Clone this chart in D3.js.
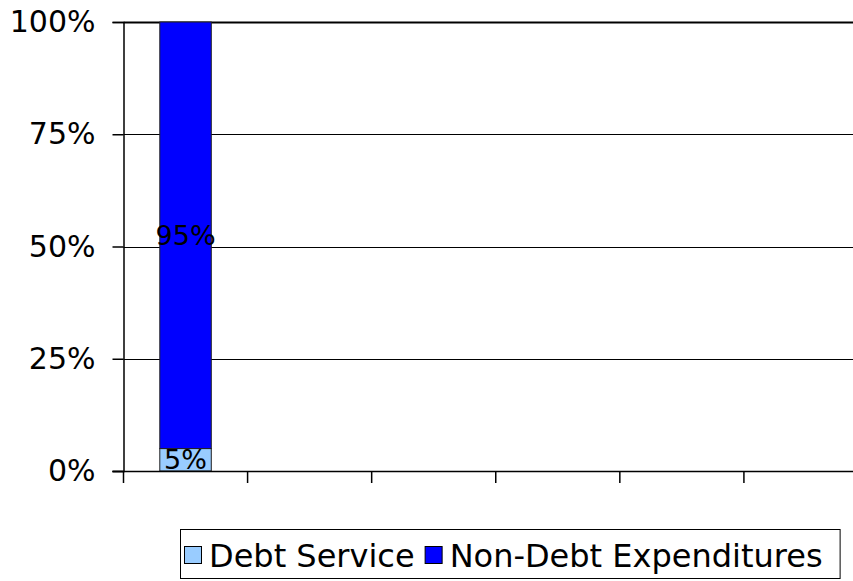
<!DOCTYPE html>
<html>
<head>
<meta charset="utf-8">
<script src="https://cdn.jsdelivr.net/npm/d3@7"></script>
<style>
  html, body { margin: 0; padding: 0; background: #fff; }
  svg { display: block; }
  text { font-family: "DejaVu Sans", sans-serif; fill: #000; }
</style>
</head>
<body>
<svg id="chart" width="853" height="581"></svg>
<script>
// Category slots along the x axis (only the first carries data)
const categories = ["C1", "C2", "C3", "C4", "C5", "C6"];
// Share of spending per category, in percent
const debtService = [5, null, null, null, null, null];
const nonDebtExpenditures = [95, null, null, null, null, null];
const seriesNames = ["Debt Service", "Non-Debt Expenditures"];
const seriesColors = ["#99CCFF", "#0000FF"];
const yTicks = [0, 25, 50, 75, 100];

const svg = d3.select("#chart");
const plot = { left: 123.5, top: 22, bottom: 471, right: 868 };

const x = d3.scaleBand().domain(categories).range([plot.left, plot.right]).padding(0);
const y = d3.scaleLinear().domain([0, 100]).range([plot.bottom, plot.top]);

// Horizontal gridlines
svg.append("g")
  .selectAll("line")
  .data(yTicks)
  .join("line")
  .attr("x1", plot.left).attr("x2", plot.right)
  .attr("y1", d => Math.round(y(d)) + 0.5).attr("y2", d => Math.round(y(d)) + 0.5)
  .attr("stroke", "#000").attr("stroke-width", d => d === 100 ? 2 : 1.2);

// Stacked bars
const rows = categories.map((c, i) => ({ cat: c, debt: debtService[i], nonDebt: nonDebtExpenditures[i] }))
  .filter(r => r.debt != null);
const stacked = d3.stack().keys(["debt", "nonDebt"])(rows);
const barW = x.bandwidth() * 0.415;

const layers = svg.append("g").selectAll("g")
  .data(stacked)
  .join("g")
  .attr("fill", (d, i) => seriesColors[i]);

layers.selectAll("rect")
  .data(d => d)
  .join("rect")
  .attr("x", d => x(d.data.cat) + (x.bandwidth() - barW) / 2)
  .attr("width", barW)
  .attr("y", d => y(d[1]))
  .attr("height", d => y(d[0]) - y(d[1]))
  .attr("stroke", "#222")
  .attr("stroke-width", 1);

// Value labels centred in each segment
layers.selectAll("text")
  .data(d => d)
  .join("text")
  .attr("x", d => x(d.data.cat) + x.bandwidth() / 2)
  .attr("y", d => (y(d[0]) + y(d[1])) / 2)
  .attr("text-anchor", "middle")
  .attr("dominant-baseline", "central")
  .style("font-size", "27px")
  .style("fill", "#000")
  .text(d => (d[1] - d[0]) + "%");

// Y axis
const yAxis = d3.axisLeft(y).tickValues(yTicks).tickFormat(d => d + "%").tickSize(11).tickPadding(17);
const gy = svg.append("g").attr("transform", `translate(${plot.left},0)`).call(yAxis);
gy.attr("font-size", null).attr("font-family", null);
gy.select(".domain").attr("stroke", "#000").attr("stroke-width", 1.5);
gy.selectAll(".tick line").attr("stroke", "#000").attr("stroke-width", 1.5);
gy.selectAll(".tick text").style("font-size", "30px");

// X axis (ticks at category boundaries, no labels)
const gx = svg.append("g").attr("transform", `translate(0,${plot.bottom})`);
gx.append("line").attr("x1", plot.left - 11).attr("x2", plot.right)
  .attr("y1", 0.5).attr("y2", 0.5).attr("stroke", "#000").attr("stroke-width", 1.5);
gx.selectAll("line.tick")
  .data(categories)
  .join("line")
  .attr("class", "tick")
  .attr("x1", d => x(d)).attr("x2", d => x(d))
  .attr("y1", 0).attr("y2", 12)
  .attr("stroke", "#000").attr("stroke-width", 1.5);

// Legend
const legend = svg.append("g");
const lgX = 180, lgY = 529, lgH = 49, sw = 17;
let cursor = lgX + 4;
let lastEnd = cursor;
legend.selectAll("g")
  .data(seriesNames)
  .join("g")
  .each(function (name, i) {
    const g = d3.select(this);
    g.append("rect")
      .attr("x", cursor + 0.5).attr("y", lgY + 17.5)
      .attr("width", sw).attr("height", sw)
      .attr("fill", seriesColors[i]).attr("stroke", "#000").attr("stroke-width", 1);
    const t = g.append("text")
      .attr("x", cursor + sw + 8).attr("y", lgY + 27)
      .attr("dominant-baseline", "central")
      .style("font-size", "32px")
      .text(name);
    lastEnd = cursor + sw + 8 + t.node().getComputedTextLength();
    cursor = lastEnd + 10;
  });
legend.insert("rect", ":first-child")
  .attr("x", lgX + 0.5).attr("y", lgY + 0.5)
  .attr("width", lastEnd + 17 - lgX).attr("height", lgH)
  .attr("fill", "#fff").attr("stroke", "#000").attr("stroke-width", 1);
</script>
</body>
</html>
